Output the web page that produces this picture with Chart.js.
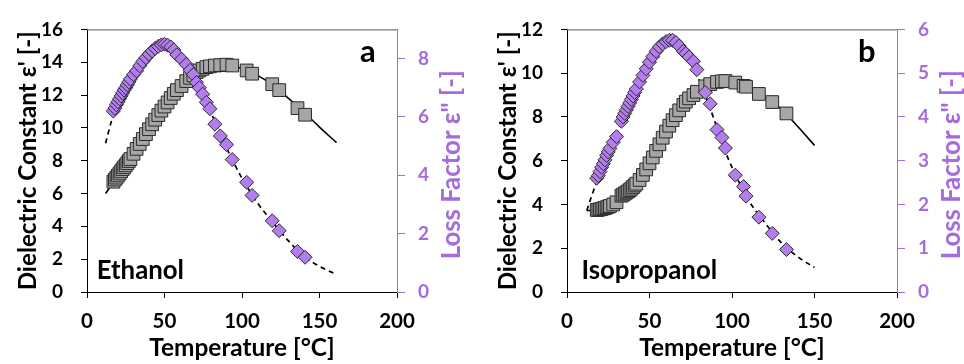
<!DOCTYPE html>
<html><head><meta charset="utf-8">
<script src="https://cdn.jsdelivr.net/npm/chart.js@4.4.1/dist/chart.umd.min.js"></script>
<style>
html,body{margin:0;padding:0;background:#fff;}
#wrap{position:relative;width:964px;height:364px;overflow:hidden;background:#fff;}
#ca{position:absolute;left:0;top:0;}
#cb{position:absolute;left:480px;top:0;}
</style></head><body>
<div id="wrap"><canvas id="ca" width="480" height="364"></canvas><canvas id="cb" width="484" height="364"></canvas></div>
<script>
// ---------- Panel a : Ethanol ----------
const ethTemp = [17,18,19,20,21,22,23,24,25,26,27,28,30,32,34,36,38,40,42,44,46,48,50,52,54,56,58,61,64,66.5,68.6,70.7,72.5,74.6,77,79.3,82.5,86,90,93.7,103,106.5,119.5,124,135.8,140.7];
const ethEpsPrime = [6.72,6.85,6.97,7.1,7.22,7.35,7.48,7.6,7.72,7.85,7.98,8.1,8.42,8.72,9.02,9.32,9.62,9.92,10.22,10.5,10.78,11.05,11.3,11.55,11.82,12.08,12.3,12.55,12.85,13.05,13.2,13.4,13.5,13.6,13.7,13.75,13.8,13.82,13.85,13.8,13.5,13.3,12.66,12.3,11.2,10.8];
const ethEpsLoss = [6.2,6.3,6.42,6.52,6.62,6.72,6.82,6.92,7.0,7.1,7.2,7.3,7.45,7.58,7.75,7.9,8.03,8.15,8.26,8.35,8.42,8.47,8.49,8.46,8.4,8.3,8.13,7.98,7.8,7.6,7.45,7.18,7.0,6.78,6.5,6.28,5.75,5.35,5.05,4.54,3.76,3.31,2.44,2.1,1.39,1.19];
const ethFitTemp = [12,16,20,25,30,35,40,45,50,55,60,65,70,75,80,85,90,95,100,110,120,130,140,150,161];
const ethFitPrime = [6.0,6.55,7.1,7.75,8.42,9.18,9.92,10.65,11.3,11.95,12.5,12.95,13.35,13.6,13.75,13.82,13.83,13.75,13.6,13.2,12.6,11.8,10.95,10.05,9.1];
const ethFitLoss = [5.1,5.9,6.52,7.0,7.45,7.85,8.15,8.38,8.48,8.38,8.08,7.7,7.2,6.75,6.15,5.55,4.95,4.4,3.9,3.05,2.38,1.75,1.22,0.88,0.6];

// ---------- Panel b : Isopropanol ----------
const ipaTemp = [18,19,20,21,22,23,24,25,26,28,30,33,34,35,36,37,38,39,40,41,42,44,46,48,50,52,54,56,58,60,62,64,66,68,70.5,72,74,76.6,78.7,83.8,86.8,90.9,93.9,96,102,107,108.5,116.3,124.4,133];
const ipaEpsPrime = [3.75,3.76,3.78,3.8,3.82,3.84,3.87,3.9,3.93,4.0,4.1,4.4,4.45,4.5,4.55,4.6,4.66,4.72,4.8,4.87,4.95,5.12,5.35,5.6,5.88,6.15,6.45,6.75,7.05,7.33,7.6,7.85,8.08,8.3,8.55,8.7,8.85,9.0,9.15,9.4,9.5,9.6,9.63,9.64,9.57,9.42,9.38,9.05,8.68,8.16];
const ipaEpsLoss = [2.6,2.66,2.75,2.85,2.93,3.02,3.12,3.2,3.28,3.42,3.55,3.9,4.0,4.08,4.16,4.24,4.32,4.4,4.48,4.56,4.64,4.8,4.95,5.1,5.25,5.38,5.5,5.6,5.67,5.72,5.75,5.75,5.7,5.62,5.5,5.45,5.37,5.27,5.08,4.56,4.3,3.71,3.53,3.29,2.67,2.41,2.19,1.71,1.34,0.97];
const ipaFitTemp = [12,15,20,25,30,35,40,45,50,55,60,65,70,75,80,85,90,95,100,110,120,130,140,150];
const ipaFitPrime = [3.72,3.73,3.78,3.9,4.1,4.45,4.8,5.25,5.88,6.6,7.33,7.97,8.5,8.9,9.2,9.42,9.57,9.63,9.6,9.3,8.9,8.35,7.55,6.7];
const ipaFitLoss = [1.86,2.2,2.72,3.2,3.6,4.08,4.48,4.88,5.25,5.55,5.72,5.75,5.55,5.25,4.85,4.38,3.85,3.3,2.85,2.1,1.58,1.12,0.8,0.56];

// ---------- axis labels / ranges ----------
const xTitle = 'Temperature [°C]';
const yTitle = "Dielectric Constant ε' [-]";
const y2Title = 'Loss Factor ε" [-]';
const xRange = [0, 200, 50];
const ethYRange = [0, 16, 2];
const ethY2Range = [0, 9, 2];
const ipaYRange = [0, 12, 2];
const ipaY2Range = [0, 6, 1];

const FONT = 'Lato';
const BLACK = '#000000';
const PURPLE = '#a46cdc';
const DIAMOND = '#b47ded';
const SQUARE = '#a6a6a6';

function fitSize(text, target) {
  const c = document.createElement('canvas').getContext('2d');
  c.font = 'bold 100px ' + FONT;
  return Math.round(target / c.measureText(text).width * 1000) / 10;
}
const yTickSize = 19;
const xTickSize = 20.5;
const yTitleSize = fitSize(yTitle, 259);
const xTitleSize = fitSize(xTitle, 185);
const y2TitleSize = fitSize(y2Title, 189);
const nameSize = (fitSize('Ethanol', 86.6) + fitSize('Isopropanol', 136.6)) / 2;
const letterSize = fitSize('a', 15.7);

Chart.defaults.font.family = FONT;
Chart.defaults.color = BLACK;

const zip = (xs, ys) => xs.map((x, i) => ({x, y: ys[i]}));

const decor = {
  id: 'decor',
  beforeDatasetsDraw(chart, args, o) {
    const {ctx, chartArea: a} = chart;
    ctx.save();
    ctx.strokeStyle = '#595959';
    ctx.lineWidth = 1;
    ctx.beginPath();
    ctx.moveTo(a.left, a.top + 0.5);
    ctx.lineTo(a.right, a.top + 0.5);
    ctx.stroke();
    ctx.restore();
  },
  afterDraw(chart, args, o) {
    const {ctx, chartArea: a} = chart;
    ctx.save();
    ctx.fillStyle = PURPLE;
    ctx.font = `bold ${y2TitleSize}px ${FONT}`;
    ctx.textAlign = 'center';
    ctx.textBaseline = 'middle';
    ctx.translate(a.right + 55, (a.top + a.bottom) / 2 + 4);
    ctx.rotate(-Math.PI / 2);
    ctx.fillText(y2Title, 0, 0);
    ctx.restore();
    ctx.save();
    ctx.fillStyle = BLACK;
    ctx.textBaseline = 'alphabetic';
    ctx.textAlign = 'left';
    ctx.font = `bold ${nameSize}px ${FONT}`;
    ctx.fillText(o.name, a.left + o.nameDx, a.bottom - 13);
    ctx.font = `bold ${letterSize}px ${FONT}`;
    ctx.fillText(o.letter, a.right + o.letterDx, 62);
    ctx.restore();
  }
};

function makePanel(id, p) {
  return new Chart(document.getElementById(id), {
    type: 'scatter',
    data: {
      datasets: [
        { label: 'loss', data: zip(p.temp, p.loss), yAxisID: 'y2', pointStyle: 'rectRot',
          pointRadius: 7, pointHoverRadius: 7, backgroundColor: DIAMOND, borderColor: '#2a2a2a', borderWidth: 1 },
        { label: 'prime', data: zip(p.temp, p.prime), yAxisID: 'y', pointStyle: 'rect',
          pointRadius: 9, pointHoverRadius: 9, backgroundColor: SQUARE, borderColor: '#2a2a2a', borderWidth: 1 },
        { label: 'fitLoss', data: zip(p.fitTemp, p.fitLoss), yAxisID: 'y2', showLine: true, pointRadius: 0,
          borderColor: BLACK, borderWidth: 1.7, borderDash: [5, 4], cubicInterpolationMode: 'monotone', fill: false },
        { label: 'fitPrime', data: zip(p.fitTemp, p.fitPrime), yAxisID: 'y', showLine: true, pointRadius: 0,
          borderColor: BLACK, borderWidth: 1.6, cubicInterpolationMode: 'monotone', fill: false }
      ]
    },
    options: {
      responsive: false,
      animation: false,
      events: [],
      layout: { padding: { top: p.top, left: 0, right: 0, bottom: 0 } },
      plugins: { legend: { display: false }, tooltip: { enabled: false },
                 decor: { name: p.name, letter: p.letter, nameDx: p.nameDx, letterDx: p.letterDx } },
      scales: {
        x: {
          type: 'linear', position: 'bottom', min: xRange[0], max: xRange[1],
          afterFit: s => { s.height = 72; },
          ticks: { stepSize: xRange[2], color: BLACK, padding: 11, font: { size: xTickSize, weight: 'bold' } },
          grid: { drawOnChartArea: false, color: BLACK, tickLength: 6, lineWidth: 1 },
          border: { display: true, color: BLACK, width: 1 },
          title: { display: true, text: xTitle, color: BLACK, padding: { top: 0, bottom: 1 },
                   font: { size: xTitleSize, weight: 'bold' } }
        },
        y: {
          type: 'linear', position: 'left', min: p.yRange[0], max: p.yRange[1],
          afterFit: s => { s.width = 87; },
          ticks: { stepSize: p.yRange[2], color: BLACK, padding: 18, font: { size: yTickSize, weight: 'bold' } },
          grid: { drawOnChartArea: false, color: BLACK, tickLength: 6, lineWidth: 1 },
          border: { display: true, color: BLACK, width: 1 },
          title: { display: true, text: yTitle, color: BLACK, padding: { top: 14, bottom: 0 },
                   font: { size: yTitleSize, weight: 'bold' } }
        },
        y2: {
          type: 'linear', position: 'right', min: p.y2Range[0], max: p.y2Range[1],
          afterFit: s => { s.width = p.rightWidth; },
          ticks: { stepSize: p.y2Range[2], includeBounds: false, color: PURPLE, padding: 13,
                   font: { size: yTickSize, weight: 'bold' } },
          grid: { drawOnChartArea: false, color: PURPLE, tickLength: 8, lineWidth: 1 },
          border: { display: true, color: PURPLE, width: 1 },
          title: { display: false }
        }
      }
    },
    plugins: [decor]
  });
}

makePanel('ca', { temp: ethTemp, prime: ethEpsPrime, loss: ethEpsLoss,
  fitTemp: ethFitTemp, fitPrime: ethFitPrime, fitLoss: ethFitLoss,
  yRange: ethYRange, y2Range: ethY2Range, top: 24, rightWidth: 83,
  name: 'Ethanol', letter: 'a', nameDx: 9.7, letterDx: -37 });

makePanel('cb', { temp: ipaTemp, prime: ipaEpsPrime, loss: ipaEpsLoss,
  fitTemp: ipaFitTemp, fitPrime: ipaFitPrime, fitLoss: ipaFitLoss,
  yRange: ipaYRange, y2Range: ipaY2Range, top: 22, rightWidth: 67,
  name: 'Isopropanol', letter: 'b', nameDx: 14.4, letterDx: -39 });
</script>
</body></html>
